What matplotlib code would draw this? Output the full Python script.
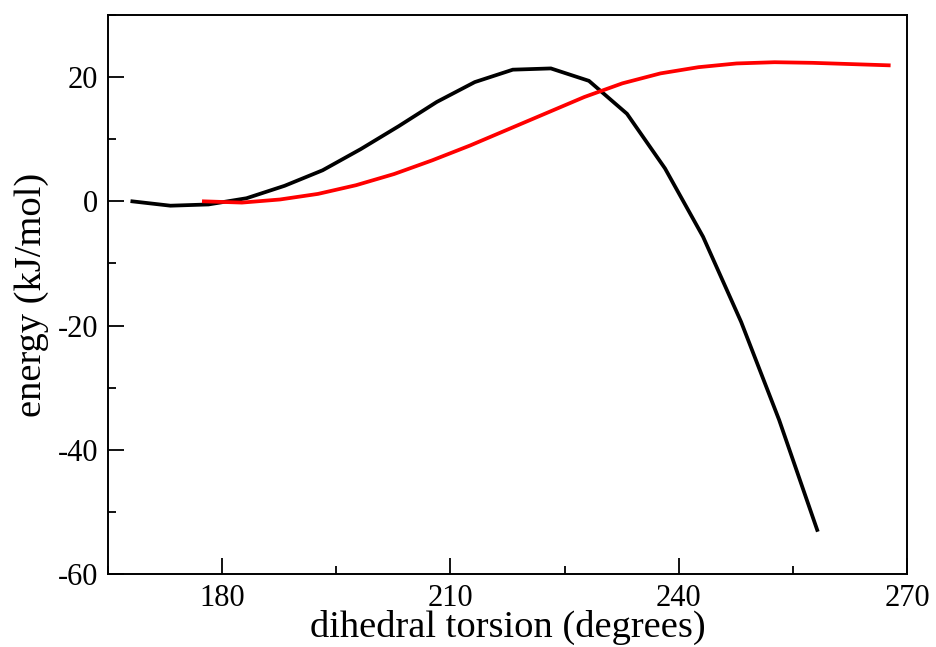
import matplotlib
matplotlib.use("Agg")
import matplotlib.pyplot as plt
from matplotlib.ticker import MultipleLocator

# Torsion scan: dihedral angle (degrees) vs relative energy (kJ/mol)
angle_black = [168.2, 173.2, 178.2, 183.2, 188.2, 193.2, 198.2, 203.2, 208.2, 213.2,
               218.2, 223.2, 228.2, 233.2, 238.2, 243.2, 248.2, 253.2, 258.2]
energy_black = [0.0, -0.7, -0.5, 0.5, 2.5, 5.0, 8.4, 12.1, 16.0, 19.2,
                21.2, 21.4, 19.4, 14.1, 5.3, -5.7, -19.4, -35.2, -52.9]

angle_red = [177.6, 182.6, 187.6, 192.6, 197.6, 202.6, 207.6, 212.6, 217.6, 222.6,
             227.6, 232.6, 237.6, 242.6, 247.6, 252.6, 257.6, 262.6, 267.6]
energy_red = [0.0, -0.2, 0.3, 1.2, 2.6, 4.4, 6.6, 9.0, 11.6, 14.2,
              16.8, 19.0, 20.6, 21.6, 22.2, 22.4, 22.3, 22.1, 21.9]

x_ticks = [180, 210, 240, 270]
y_ticks = [-60, -40, -20, 0, 20]

plt.rcParams['font.family'] = ['Liberation Serif', 'DejaVu Serif']
plt.rcParams['axes.unicode_minus'] = False

fig = plt.figure(figsize=(9.36, 6.47), dpi=100)
ax = fig.add_axes([0.1154, 0.1128, 0.9690 - 0.1154, 0.9768 - 0.1128])

ax.plot(angle_black, energy_black, color='black', lw=2.7, solid_joinstyle='miter')
ax.plot(angle_red, energy_red, color='#ff0000', lw=2.7)

ax.set_xlim(165, 270)
ax.set_ylim(-60, 30)
ax.set_xticks(x_ticks)
ax.set_yticks(y_ticks)
ax.xaxis.set_minor_locator(MultipleLocator(15))
ax.yaxis.set_minor_locator(MultipleLocator(10))

ax.tick_params(which='both', direction='in', top=False, right=False, width=1.3,
               labelsize=22)
ax.tick_params(which='major', length=11.5, pad=7)
ax.tick_params(which='minor', length=5.8)
for s in ax.spines.values():
    s.set_linewidth(1.4)

ax.set_xlabel('dihedral torsion (degrees)', fontsize=27.7, labelpad=-2)
ax.set_ylabel('energy (kJ/mol)', fontsize=27.7, labelpad=6)

fig.savefig('out.png', dpi=100)
